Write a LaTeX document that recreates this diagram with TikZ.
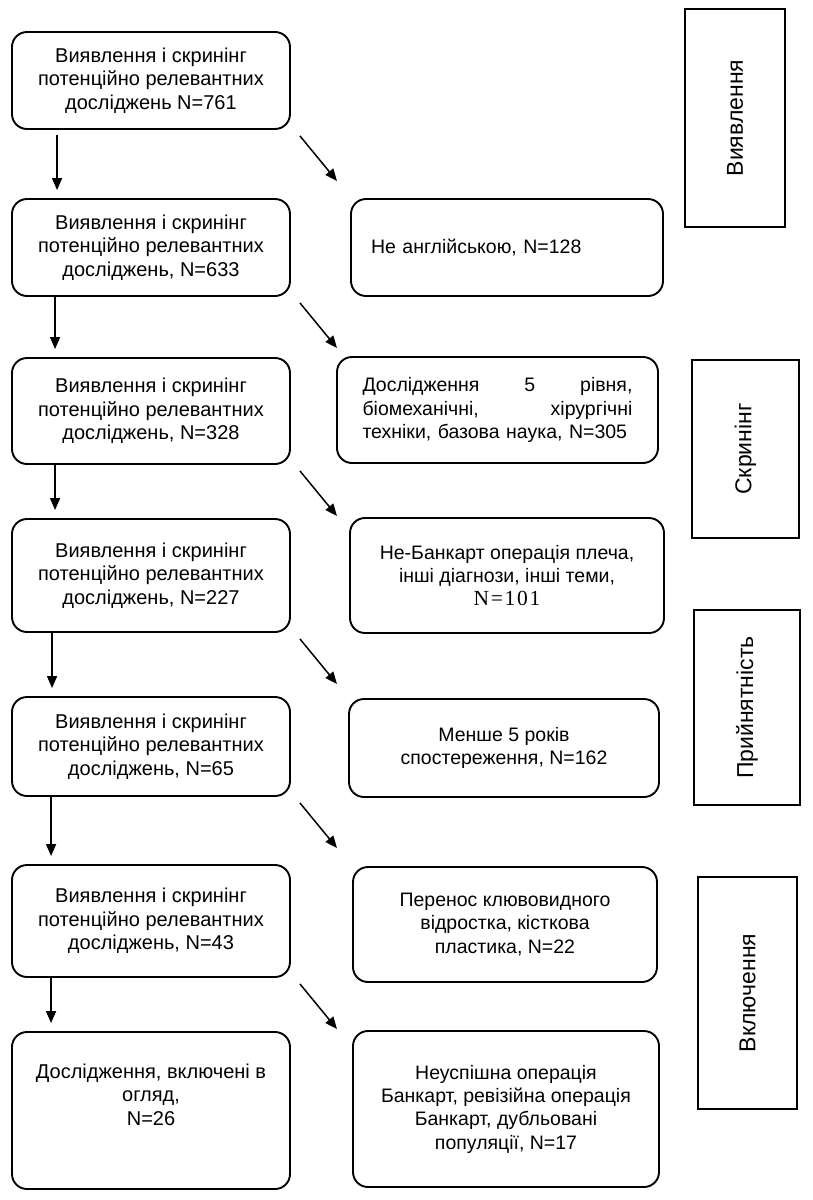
\documentclass[tikz,border=0pt]{standalone}
\usepackage{fontspec}
\setmainfont{Liberation Sans}
\newfontfamily\numfont{Liberation Serif}[LetterSpace=8]
\usetikzlibrary{arrows.meta}

\tikzset{
  step box/.style={draw,line width=1.9pt,rounded corners=15pt,align=center,
    font=\fontsize{19.5}{23.3}\selectfont,inner sep=4pt},
  left box/.style={step box,minimum width=278pt,font=\fontsize{20}{23.3}\selectfont},
  drop box/.style={step box},
  phase box/.style={draw,line width=1.9pt,rotate=90,inner sep=0pt,
    font=\fontsize{23}{26}\selectfont},
  down arrow/.style={line width=1.5pt,-{Triangle[length=12pt,width=10pt]}},
  out arrow/.style={line width=1.5pt,-{Triangle[length=12pt,width=10pt]}}
}

\begin{document}
\begin{tikzpicture}[x=1pt,y=-1pt]
  \useasboundingbox (0,0) rectangle (812,1200);

  % Main flow (left column)
  \node[left box,minimum height=97pt] (b1) at (151,80.5)
    {Виявлення і скринінг\\потенційно релевантних\\досліджень N=761};
  \node[left box,minimum height=97pt] (b2) at (151,247.5)
    {Виявлення і скринінг\\потенційно релевантних\\досліджень, N=633};
  \node[left box,minimum height=106pt] (b3) at (151,411)
    {Виявлення і скринінг\\потенційно релевантних\\досліджень, N=328};
  \node[left box,minimum height=113pt] (b4) at (151,575.5)
    {Виявлення і скринінг\\потенційно релевантних\\досліджень, N=227};
  \node[left box,minimum height=99pt] (b5) at (151,746.5)
    {Виявлення і скринінг\\потенційно релевантних\\досліджень, N=65};
  \node[left box,minimum height=112pt] (b6) at (151,921)
    {Виявлення і скринінг\\потенційно релевантних\\досліджень, N=43};
  \node[left box,minimum height=157pt,text depth=32pt] (b7) at (151,1110.5)
    {Дослідження, включені в\\огляд,\\N=26};

  % Excluded records (right column)
  \node[drop box,minimum width=312pt,minimum height=97pt,
    text width=272pt,align=left] (r1) at (507,247.5)
    {Не англійською, N=128};
  \node[drop box,minimum width=321pt,minimum height=106pt,
    text width=270pt,align=left,xshift=-7pt] (r2) at (504.5,410)
    {Дослідження\hfill 5\hfill рівня,\\біомеханічні,\hfill хірургічні\\техніки, базова наука, N=305};
  \node[drop box,minimum width=314pt,minimum height=115pt] (r3) at (507,575.5)
    {Не-Банкарт операція плеча,\\інші діагнози, інші теми,\\{\numfont\fontsize{21.5}{23.3}\selectfont N=101}};
  \node[drop box,minimum width=310pt,minimum height=98pt] (r4) at (504,748)
    {Менше 5 років\\спостереження, N=162};
  \node[drop box,minimum width=304pt,minimum height=115pt] (r5) at (505,924.5)
    {Перенос клювовидного\\відростка, кісткова\\пластика, N=22};
  \node[drop box,minimum width=306pt,minimum height=156pt] (r6) at (506,1109)
    {Неуспішна операція\\Банкарт, ревізійна операція\\Банкарт, дубльовані\\популяції, N=17};

  % Phase labels
  \node[phase box,minimum width=218pt,minimum height=100pt] (s1) at (735,118) {Виявлення};
  \node[phase box,minimum width=178pt,minimum height=107pt] (s2) at (745.5,449) {Скринінг};
  \node[phase box,minimum width=195pt,minimum height=106pt] (s3) at (747,707.5) {Прийнятність};
  \node[phase box,minimum width=232pt,minimum height=99pt] (s4) at (747.5,993) {Включення};

  % Arrows down the main flow
  \draw[down arrow,shorten <=5pt,shorten >=8pt] ([xshift=46pt]b1.south west) -- ([xshift=46pt]b2.north west);
  \foreach \a/\b/\dx in {2/3/44,3/4/44,4/5/41,5/6/40,6/7/40}
    \draw[down arrow,shorten >=8pt] ([xshift=\dx pt]b\a.south west) -- ([xshift=\dx pt]b\b.north west);

  % Arrows to the excluded records
  \foreach \a in {1,...,6}
    \draw[out arrow] ([xshift=9pt,yshift=-6pt]b\a.south east) -- ++(37,45);
\end{tikzpicture}
\end{document}
